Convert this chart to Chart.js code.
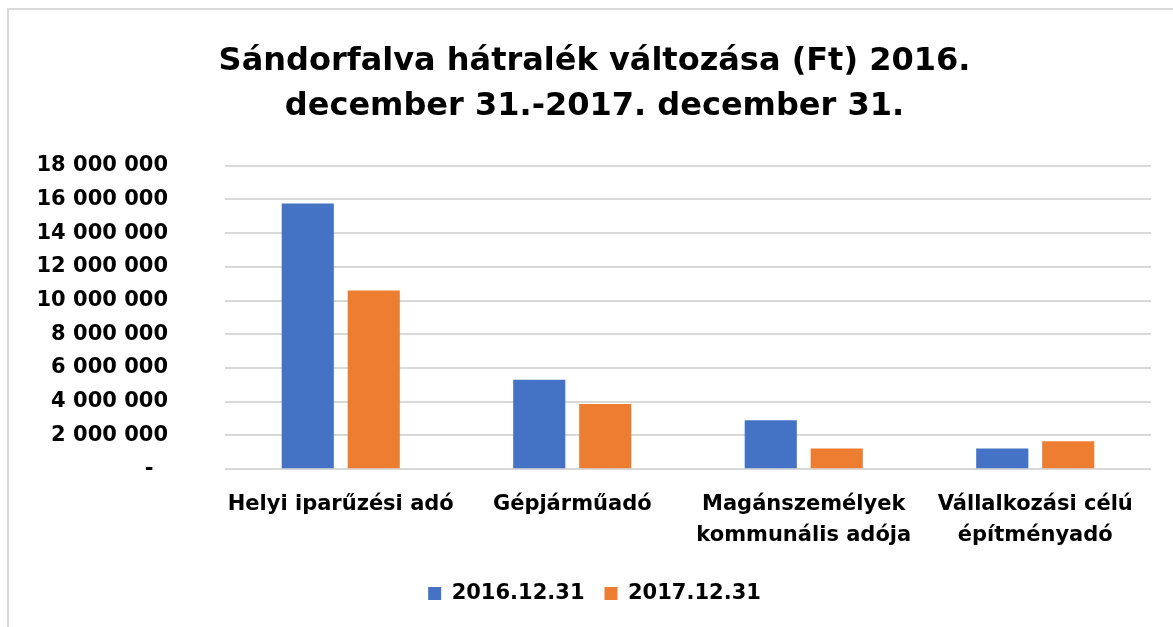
<!DOCTYPE html>
<html>
<head>
<meta charset="utf-8">
<script src="https://cdn.jsdelivr.net/npm/chart.js@4"></script>
<style>
  body { margin: 0; background: #fff; }
  #frame { position: absolute; left: 7px; top: 8px; width: 1200px; height: 700px;
           border-left: 2px solid #d9d9d9; border-top: 2px solid #d9d9d9; }
  #wrap { position: absolute; left: 0; top: 0; width: 1173px; height: 627px; }
</style>
</head>
<body>
<div id="frame"></div>
<div id="wrap"><canvas id="myChart"></canvas></div>
<script>
var categories = [
    'Helyi iparűzési adó',
    'Gépjárműadó',
    ['Magánszemélyek', 'kommunális adója'],
    ['Vállalkozási célú', 'építményadó']
];
var values2016 = [15750000, 5300000, 2900000, 1230000];
var values2017 = [10600000, 3870000, 1230000, 1650000];
var seriesNames = ['2016.12.31', '2017.12.31'];
var titleLines = ['Sándorfalva hátralék változása (Ft) 2016.', 'december 31.-2017. december 31.'];

function fmt(v) {
    if (v === 0) return '-  ';
    return String(v).replace(/\B(?=(\d{3})+(?!\d))/g, ' ');
}

var font = '"DejaVu Sans", Verdana, sans-serif';

var ctx = document.getElementById('myChart').getContext('2d');
var myChart = new Chart(ctx, {
    type: 'bar',
    data: {
        labels: categories,
        datasets: [{
            label: seriesNames[0],
            data: values2016,
            backgroundColor: '#4472C4'
        }, {
            label: seriesNames[1],
            data: values2017,
            backgroundColor: '#ED7D31'
        }]
    },
    options: {
        responsive: true,
        maintainAspectRatio: false,
        animation: false,
        layout: { padding: { left: 38, right: 22, top: 0, bottom: 13 } },
        datasets: {
            bar: { categoryPercentage: 0.57, barPercentage: 0.79 }
        },
        plugins: {
            title: {
                display: true,
                text: titleLines,
                color: '#000',
                font: { family: font, size: 32, weight: 'bold', lineHeight: 1.4 },
                padding: { top: 39, bottom: 37 }
            },
            legend: {
                position: 'bottom',
                labels: {
                    color: '#000',
                    boxWidth: 13,
                    boxHeight: 13,
                    padding: 20,
                    font: { family: font, size: 21, weight: 'bold' }
                }
            },
            tooltip: { enabled: false }
        },
        scales: {
            x: {
                grid: { display: false },
                border: { display: false },
                ticks: {
                    color: '#000',
                    maxRotation: 0,
                    autoSkip: false,
                    padding: 11,
                    font: { family: font, size: 21, weight: 'bold', lineHeight: 1.52 }
                }
            },
            y: {
                min: 0,
                max: 18000000,
                afterFit: function (scale) { scale.width = 187; },
                grid: { color: '#d9d9d9', lineWidth: 2, drawTicks: false },
                border: { display: false },
                ticks: {
                    stepSize: 2000000,
                    color: '#000',
                    padding: 57,
                    font: { family: font, size: 21, weight: 'bold' },
                    callback: function (v) { return fmt(v); }
                }
            }
        }
    }
});
</script>
</body>
</html>
